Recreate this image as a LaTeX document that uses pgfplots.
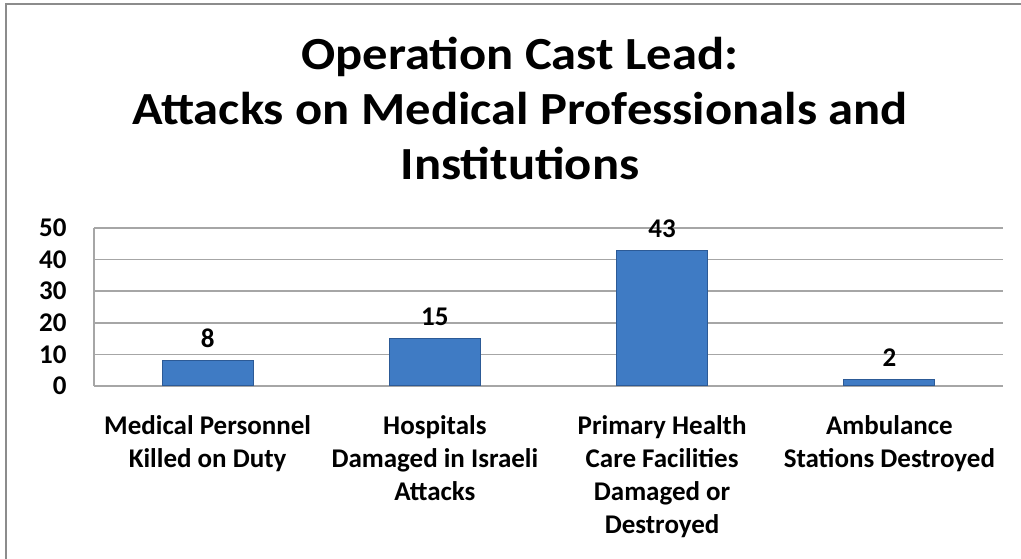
\documentclass[border=0pt]{standalone}
\usepackage{pgfplots}
\pgfplotsset{compat=1.18}
\usepackage{fontspec}
\setmainfont{Carlito}
\definecolor{barmid}{HTML}{3F7BC4}
\definecolor{baredge}{HTML}{2C5A96}
\definecolor{gridgray}{HTML}{A6A6A6}
\definecolor{framegray}{HTML}{8C8C8C}
\begin{document}
\begin{tikzpicture}[x=1pt,y=1pt]
\useasboundingbox (0,0) rectangle (1021,559);
\draw[framegray, line width=2pt] (6,0) -- (6,555) -- (1021,555);
\begin{scope}[every node/.style={anchor=base, xscale=1.1, font=\bfseries\fontsize{46}{55}\selectfont}]
\node at (520,489) {Operation Cast Lead:};
\node at (520,434) {Attacks on Medical Professionals and};
\node at (520,379) {Institutions};
\end{scope}
\begin{axis}[
  at={(94pt,173pt)}, anchor=south west,
  scale only axis, width=909pt, height=158pt,
  xmin=-0.5, xmax=3.5, ymin=0, ymax=50,
  ytick={0,10,20,30,40,50},
  xtick={0,1,2,3},
  xticklabels={{Medical Personnel\\Killed on Duty},{Hospitals\\Damaged in Israeli\\Attacks},{Primary Health\\Care Facilities\\Damaged or\\Destroyed},{Ambulance\\Stations Destroyed}},
  axis x line=bottom, axis y line=left,
  axis line style={gridgray, line width=1.5pt, -},
  ymajorgrids, grid style={gridgray, line width=1.5pt},
  major tick length=0pt,
  /pgf/number format/assume math mode=true,
  yticklabel style={font=\bfseries\fontsize{27}{30}\selectfont, xshift=-24pt},
  xticklabel style={font=\bfseries\fontsize{27}{33}\selectfont, align=center, anchor=north, yshift=-26pt},
  ybar, bar width=91pt,
  nodes near coords,
  every node near coord/.append style={font=\bfseries\fontsize{27}{30}\selectfont, yshift=9pt, black},
  clip=false,
]
\addplot[draw=baredge, line width=1pt, fill=barmid] coordinates {(0,8) (1,15) (2,43) (3,2)};
\end{axis}
\end{tikzpicture}
\end{document}
